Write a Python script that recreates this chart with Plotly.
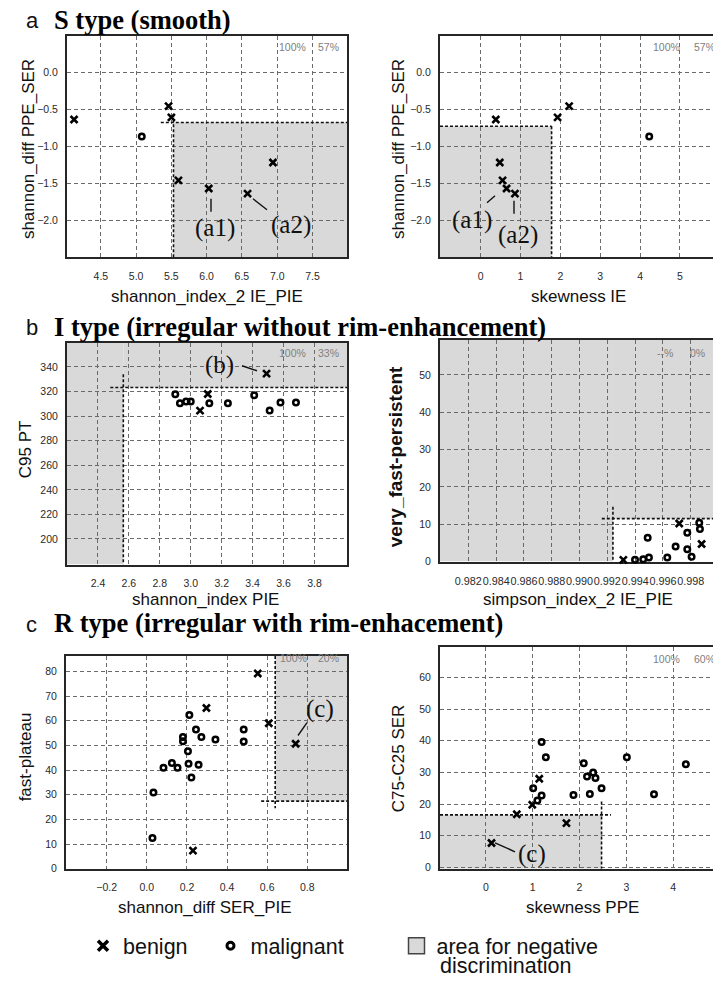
import plotly.graph_objects as go

W, H = 713, 984

# ---------------- data ----------------
# (a) S type (smooth)
a_benign_shannon_index_2_ie_pie = [4.12, 5.46, 5.50, 5.60, 6.03, 6.58, 6.94]
a_benign_shannon_diff_ppe_ser = [-0.64, -0.46, -0.61, -1.46, -1.57, -1.64, -1.22]
a_benign_skewness_ie = [0.38, 2.22, 1.93, 0.55, 0.65, 0.86, 0.48]
a_malig_shannon_index_2_ie_pie = [5.08]
a_malig_shannon_diff_ppe_ser = [-0.87]
a_malig_skewness_ie = [4.23]

# (b) I type (irregular without rim-enhancement)
b_benign_shannon_index_pie = [3.49, 3.06, 3.11]
b_benign_c95_pt = [334.6, 304.5, 318.0]
b_malig_shannon_index_pie = [2.90, 2.93, 2.97, 3.00, 3.12, 3.24, 3.41, 3.51, 3.58, 3.68]
b_malig_c95_pt = [317.9, 310.4, 312.0, 312.0, 310.4, 310.4, 316.9, 304.5, 311.0, 311.0]
b_benign_simpson_index_2_ie_pie = [0.99315, 0.99717, 0.99878]
b_benign_very_fast_persistent = [0.45, 10.2, 4.7]
b_malig_simpson_index_2_ie_pie = [0.99399, 0.99458, 0.99499, 0.99490, 0.99631, 0.99691,
                                  0.99775, 0.99775, 0.99806, 0.99861, 0.99866]
b_malig_very_fast_persistent = [0.45, 0.6, 1.1, 6.4, 1.1, 4.0, 7.7, 3.3, 1.3, 10.4, 8.7]

# (c) R type (irregular with rim-enhancement)
c_benign_shannon_diff_ser_pie = [0.553, 0.297, 0.608, 0.742, 0.230]
c_benign_fast_plateau = [79.2, 65.2, 59.0, 50.7, 7.3]
c_malig_shannon_diff_ser_pie = [0.212, 0.245, 0.272, 0.180, 0.180, 0.342, 0.483, 0.483, 0.205,
                                0.208, 0.258, 0.125, 0.153, 0.083, 0.222, 0.033, 0.028]
c_malig_fast_plateau = [62.4, 56.5, 53.4, 53.4, 51.7, 52.4, 56.5, 51.6, 47.6,
                        42.6, 42.2, 42.9, 40.9, 40.9, 37.0, 30.9, 12.4]
c_benign_skewness_ppe = [1.14, 0.99, 0.66, 1.72, 0.12]
c_benign_c75_c25_ser = [28.0, 19.8, 16.8, 14.0, 7.7]
c_malig_skewness_ppe = [1.19, 1.28, 2.09, 3.01, 4.27, 2.16, 2.29, 2.34, 1.01, 2.47, 1.19, 1.10,
                        1.87, 2.22, 3.59]
c_malig_c75_c25_ser = [39.6, 34.8, 32.9, 34.8, 32.6, 28.7, 30.0, 28.2, 25.0, 25.0, 22.7, 21.1,
                       22.9, 23.2, 23.1]

# discrimination thresholds (x, y)
thr_a_left = (5.53, -0.68)
thr_a_right = (1.78, -0.73)
thr_b_left = (2.564, 323.3)
thr_b_right = (0.9924, 11.5)
thr_c_left = (0.64, 27.4)
thr_c_right = (2.47, 16.6)

# sensitivity / specificity labels
pct_a_left = ["100%", "57%"]
pct_a_right = ["100%", "57%"]
pct_b_left = ["100%", "33%"]
pct_b_right = ["--%", "0%"]
pct_c_left = ["100%", "20%"]
pct_c_right = ["100%", "60%"]

# tick values / labels
ticks_a_left_x = [4.5, 5.0, 5.5, 6.0, 6.5, 7.0, 7.5]
ticklabels_a_left_x = ["4.5", "5.0", "5.5", "6.0", "6.5", "7.0", "7.5"]
ticks_a_y = [0.0, -0.5, -1.0, -1.5, -2.0]
ticklabels_a_y = ["0.0", "\u22120.5", "\u22121.0", "\u22121.5", "\u22122.0"]
ticks_a_right_x = [0, 1, 2, 3, 4, 5]
ticklabels_a_right_x = ["0", "1", "2", "3", "4", "5"]
ticks_b_left_x = [2.4, 2.6, 2.8, 3.0, 3.2, 3.4, 3.6, 3.8]
ticklabels_b_left_x = ["2.4", "2.6", "2.8", "3.0", "3.2", "3.4", "3.6", "3.8"]
ticks_b_left_y = [200, 220, 240, 260, 280, 300, 320, 340]
ticklabels_b_left_y = ["200", "220", "240", "260", "280", "300", "320", "340"]
ticks_b_right_x = [0.982, 0.984, 0.986, 0.988, 0.990, 0.992, 0.994, 0.996, 0.998]
ticklabels_b_right_x = ["0.982", "0.984", "0.986", "0.988", "0.990", "0.992", "0.994", "0.996", "0.998"]
ticks_b_right_y = [0, 10, 20, 30, 40, 50]
ticklabels_b_right_y = ["0", "10", "20", "30", "40", "50"]
ticks_c_left_x = [-0.2, 0.0, 0.2, 0.4, 0.6, 0.8]
ticklabels_c_left_x = ["\u22120.2", "0.0", "0.2", "0.4", "0.6", "0.8"]
ticks_c_left_y = [0, 10, 20, 30, 40, 50, 60, 70, 80]
ticklabels_c_left_y = ["0", "10", "20", "30", "40", "50", "60", "70", "80"]
ticks_c_right_x = [0, 1, 2, 3, 4]
ticklabels_c_right_x = ["0", "1", "2", "3", "4"]
ticks_c_right_y = [0, 10, 20, 30, 40, 50, 60]
ticklabels_c_right_y = ["0", "10", "20", "30", "40", "50", "60"]

# ---------------- styles ----------------
GRAY = "#d9d9d9"
SANS = "Liberation Sans, Arial, sans-serif"
SERIF = "Liberation Serif, Times New Roman, serif"
MARK_X = dict(symbol="x-thin", size=7, color="black", line=dict(width=2.6, color="black"))
MARK_O = dict(symbol="circle-open", size=5.5, color="black", line=dict(width=2.5, color="black"))

# frame pixel boxes: (left, right, top, bottom)
panels = [
    dict(frame=(67, 347, 36, 259), xr=[4.02, 7.99], yr=[-2.5, 0.49],
         bx=a_benign_shannon_index_2_ie_pie, by=a_benign_shannon_diff_ppe_ser,
         mx=a_malig_shannon_index_2_ie_pie, my=a_malig_shannon_diff_ppe_ser,
         xt=ticks_a_left_x, xtl=ticklabels_a_left_x, yt=ticks_a_y, ytl=ticklabels_a_y,
         right=False, tf=10.5),
    dict(frame=(440, 713, 36, 259), xr=[-1.02, 5.83], yr=[-2.5, 0.49],
         bx=a_benign_skewness_ie, by=a_benign_shannon_diff_ppe_ser,
         mx=a_malig_skewness_ie, my=a_malig_shannon_diff_ppe_ser,
         xt=ticks_a_right_x, xtl=ticklabels_a_right_x, yt=ticks_a_y, ytl=ticklabels_a_y,
         right=True, tf=10.5),
    dict(frame=(67, 347, 345, 568), xr=[2.2, 4.01], yr=[179.2, 359.6],
         bx=b_benign_shannon_index_pie, by=b_benign_c95_pt,
         mx=b_malig_shannon_index_pie, my=b_malig_c95_pt,
         xt=ticks_b_left_x, xtl=ticklabels_b_left_x, yt=ticks_b_left_y, ytl=ticklabels_b_left_y,
         right=False, tf=10.5),
    dict(frame=(440, 713, 342, 565), xr=[0.97996, 0.9996], yr=[0, 59.4],
         bx=b_benign_simpson_index_2_ie_pie, by=b_benign_very_fast_persistent,
         mx=b_malig_simpson_index_2_ie_pie, my=b_malig_very_fast_persistent,
         xt=ticks_b_right_x, xtl=ticklabels_b_right_x, yt=ticks_b_right_y, ytl=ticklabels_b_right_y,
         right=True, tf=10.8),
    dict(frame=(66, 347, 660, 874), xr=[-0.403, 0.998], yr=[0, 86.3],
         bx=c_benign_shannon_diff_ser_pie, by=c_benign_fast_plateau,
         mx=c_malig_shannon_diff_ser_pie, my=c_malig_fast_plateau,
         xt=ticks_c_left_x, xtl=ticklabels_c_left_x, yt=ticks_c_left_y, ytl=ticklabels_c_left_y,
         right=False, tf=10.5),
    dict(frame=(440, 713, 651, 874), xr=[-0.98, 4.85], yr=[-0.4, 69.6],
         bx=c_benign_skewness_ppe, by=c_benign_c75_c25_ser,
         mx=c_malig_skewness_ppe, my=c_malig_c75_c25_ser,
         xt=ticks_c_right_x, xtl=ticklabels_c_right_x, yt=ticks_c_right_y, ytl=ticklabels_c_right_y,
         right=True, tf=10.5),
]

fig = go.Figure()
layout = {}
shapes = []

for i, p in enumerate(panels, start=1):
    xa = "x" if i == 1 else f"x{i}"
    ya = "y" if i == 1 else f"y{i}"
    fig.add_trace(go.Scatter(x=p["bx"], y=p["by"], xaxis=xa, yaxis=ya, mode="markers",
                             marker=MARK_X, showlegend=False, cliponaxis=False, name="benign"))
    fig.add_trace(go.Scatter(x=p["mx"], y=p["my"], xaxis=xa, yaxis=ya, mode="markers",
                             marker=MARK_O, showlegend=False, cliponaxis=False, name="malignant"))
    l, r, t, b = p["frame"]
    common = dict(showgrid=True, gridcolor="#6a6a6a", gridwidth=1, griddash="4px,3px",
                  zeroline=False, showline=True, linecolor="#262626", linewidth=2,
                  ticks="", fixedrange=True, layer="below traces")
    layout["xaxis" if i == 1 else f"xaxis{i}"] = dict(
        common, domain=[l / W, r / W], range=p["xr"], anchor=ya, tickmode="array",
        tickvals=p["xt"], ticktext=p["xtl"], mirror=True, tickangle=0, ticklabelstandoff=8,
        tickfont=dict(family=SANS, size=p["tf"], color="#2a2a2a"))
    layout["yaxis" if i == 1 else f"yaxis{i}"] = dict(
        common, domain=[1 - b / H, 1 - t / H], range=p["yr"], anchor=xa, tickmode="array",
        tickvals=p["yt"], ticktext=p["ytl"], mirror=not p["right"], ticklabelstandoff=5,
        tickfont=dict(family=SANS, size=10.5, color="#2a2a2a"))


def rect(i, x0, x1, y0, y1):
    xa = "x" if i == 1 else f"x{i}"
    ya = "y" if i == 1 else f"y{i}"
    shapes.append(dict(type="rect", xref=xa, yref=ya, x0=x0, x1=x1, y0=y0, y1=y1,
                       fillcolor=GRAY, line=dict(width=0), layer="below"))


def dline(i, x0, y0, x1, y1):
    xa = "x" if i == 1 else f"x{i}"
    ya = "y" if i == 1 else f"y{i}"
    shapes.append(dict(type="line", xref=xa, yref=ya, x0=x0, x1=x1, y0=y0, y1=y1,
                       line=dict(color="#111", width=1.6, dash="3px,2px"), layer="between"))


# panel 1 (a left): shaded x>thr, y<thr
xr, yr = panels[0]["xr"], panels[0]["yr"]
tx, ty = thr_a_left
rect(1, tx, xr[1], yr[0], ty)
dline(1, 5.35, ty, xr[1], ty)
dline(1, tx, -0.57, tx, yr[0])
# panel 2 (a right): shaded x<thr, y<thr
xr, yr = panels[1]["xr"], panels[1]["yr"]
tx, ty = thr_a_right
rect(2, xr[0], tx, yr[0], ty)
dline(2, xr[0], ty, tx, ty)
dline(2, tx, ty, tx, yr[0])
# panel 3 (b left): shaded x<thr or y>thr
xr, yr = panels[2]["xr"], panels[2]["yr"]
tx, ty = thr_b_left
rect(3, xr[0], tx, yr[0], yr[1])
rect(3, tx, xr[1], ty, yr[1])
dline(3, 2.48, ty, xr[1], ty)
dline(3, tx, 334, tx, yr[0])
# panel 4 (b right): shaded x<thr or y>thr
xr, yr = panels[3]["xr"], panels[3]["yr"]
tx, ty = thr_b_right
rect(4, xr[0], tx, yr[0], yr[1])
rect(4, tx, xr[1], ty, yr[1])
dline(4, 0.9916, ty, xr[1], ty)
dline(4, tx, 14.7, tx, yr[0])
# panel 5 (c left): shaded x>thr, y>thr
xr, yr = panels[4]["xr"], panels[4]["yr"]
tx, ty = thr_c_left
rect(5, tx, xr[1], ty, yr[1])
dline(5, 0.57, ty, xr[1], ty)
dline(5, tx, yr[1], tx, 24.5)
# panel 6 (c right): shaded x<thr, y<thr
xr, yr = panels[5]["xr"], panels[5]["yr"]
tx, ty = thr_c_right
rect(6, xr[0], tx, yr[0], ty)
dline(6, xr[0], ty, 2.67, ty)
dline(6, tx, 20.8, tx, yr[0])

# overlay pixel axis for text & leader lines
layout["xaxis7"] = dict(domain=[0, 1], range=[0, W], anchor="y7", visible=False, fixedrange=True)
layout["yaxis7"] = dict(domain=[0, 1], range=[H, 0], anchor="x7", visible=False, fixedrange=True)
fig.add_trace(go.Scatter(x=[None], y=[None], xaxis="x7", yaxis="y7", showlegend=False, hoverinfo="skip"))

annotations = []


def txt(text, x, y, size, family=SANS, color="#111", angle=0, xanchor="center", yanchor="middle"):
    annotations.append(dict(text=text, x=x, y=y, xref="x7", yref="y7", showarrow=False,
                            font=dict(family=family, size=size, color=color), textangle=angle,
                            xanchor=xanchor, yanchor=yanchor))


def lead(x0, y0, x1, y1):
    shapes.append(dict(type="line", xref="x7", yref="y7", x0=x0, y0=y0, x1=x1, y1=y1,
                       line=dict(color="#111", width=1.4), layer="above"))


# section titles
for letter, title, yy in [("a", "S type (smooth)", 20),
                          ("b", "I type (irregular without rim-enhancement)", 329),
                          ("c", "R type (irregular with rim-enhacement)", 627)]:
    txt(letter, 24, yy + 1, 22, xanchor="left")
    txt("<b>" + title + "</b>", 52, yy, 26.5, family=SERIF, color="#000", xanchor="left")

# axis titles
AT = 17
txt("shannon_diff PPE_SER", 28, 150, AT, angle=-90)
txt("shannon_index_2 IE_PIE", 207, 298, AT)
txt("shannon_diff PPE_SER", 398, 150, AT, angle=-90)
txt("skewness IE", 578, 298, AT)
txt("C95 PT", 25, 452, AT, angle=-90)
txt("shannon_index PIE", 205, 603, AT)
txt("<b>very_fast-persistent</b>", 395, 460, 19, angle=-90)
txt("simpson_index_2 IE_PIE", 578, 603, AT)
txt("fast-plateau", 25, 762, AT, angle=-90)
txt("shannon_diff SER_PIE", 205, 913, AT)
txt("C75-C25 SER", 398, 763, AT, angle=-90)
txt("skewness PPE", 582, 913, AT)

# percentage labels
PC = "#808080"
for (lbl, xy) in [(pct_a_left, ((292, 47), (328.5, 47))),
                  (pct_a_right, ((666, 47), (704, 47))),
                  (pct_b_left, ((292.5, 355), (328.5, 355))),
                  (pct_b_right, ((665, 355), (697, 355))),
                  (pct_c_left, ((293, 662), (328, 662))),
                  (pct_c_right, ((666, 663), (704, 663)))]:
    txt(lbl[0], xy[0][0], xy[0][1], 10.5, color=PC)
    txt(lbl[1], xy[1][0], xy[1][1], 10.5, color=PC)

# case labels with leader lines
CL = 25
txt("(a1)", 215, 229, CL, family=SERIF)
lead(211, 200, 211, 213)
txt("(a2)", 291, 226, CL, family=SERIF)
lead(253, 200, 267, 211)
txt("(a1)", 472, 221, CL, family=SERIF)
lead(495, 197, 487, 204)
txt("(a2)", 518, 236, CL, family=SERIF)
lead(514, 202, 514, 215)
txt("(b)", 219, 367, CL, family=SERIF)
lead(242, 368, 257, 373)
txt("(c)", 320, 713, CL, family=SERIF)
lead(307, 727, 298, 740)
txt("(c)", 532, 859, CL, family=SERIF)
lead(495, 848, 515, 857)

# second line of the shaded-area legend entry
txt("discrimination", 438, 972, 21.5, xanchor="left")

# legend entries (legend-only traces)
NB = "\u00a0"
fig.add_trace(go.Scatter(x=[None], y=[None], mode="markers", name="benign" + NB * 3,
                         marker=dict(symbol="x-thin", size=10, color="black",
                                     line=dict(width=3.5, color="black"))))
fig.add_trace(go.Scatter(x=[None], y=[None], mode="markers", name="malignant" + NB * 8,
                         marker=dict(symbol="circle-open", size=7, color="black",
                                     line=dict(width=3, color="black"))))
fig.add_trace(go.Scatter(x=[None], y=[None], mode="markers", name="area for negative",
                         marker=dict(symbol="square", size=16, color=GRAY,
                                     line=dict(width=1.5, color="#444"))))

fig.update_layout(
    width=W, height=H, margin=dict(l=0, r=0, t=0, b=0),
    paper_bgcolor="white", plot_bgcolor="rgba(0,0,0,0)",
    shapes=shapes, annotations=annotations,
    showlegend=True,
    legend=dict(orientation="h", x=83 / W, xanchor="left", y=1 - 931 / H, yanchor="top",
                font=dict(family=SANS, size=21.5, color="#111"), valign="top",
                bgcolor="rgba(0,0,0,0)", traceorder="normal", itemsizing="trace"),
    **layout,
)

fig.write_html("out.html", config={"displayModeBar": False, "staticPlot": True},
               post_script="document.body.style.margin='0';document.body.style.overflow='hidden';")
